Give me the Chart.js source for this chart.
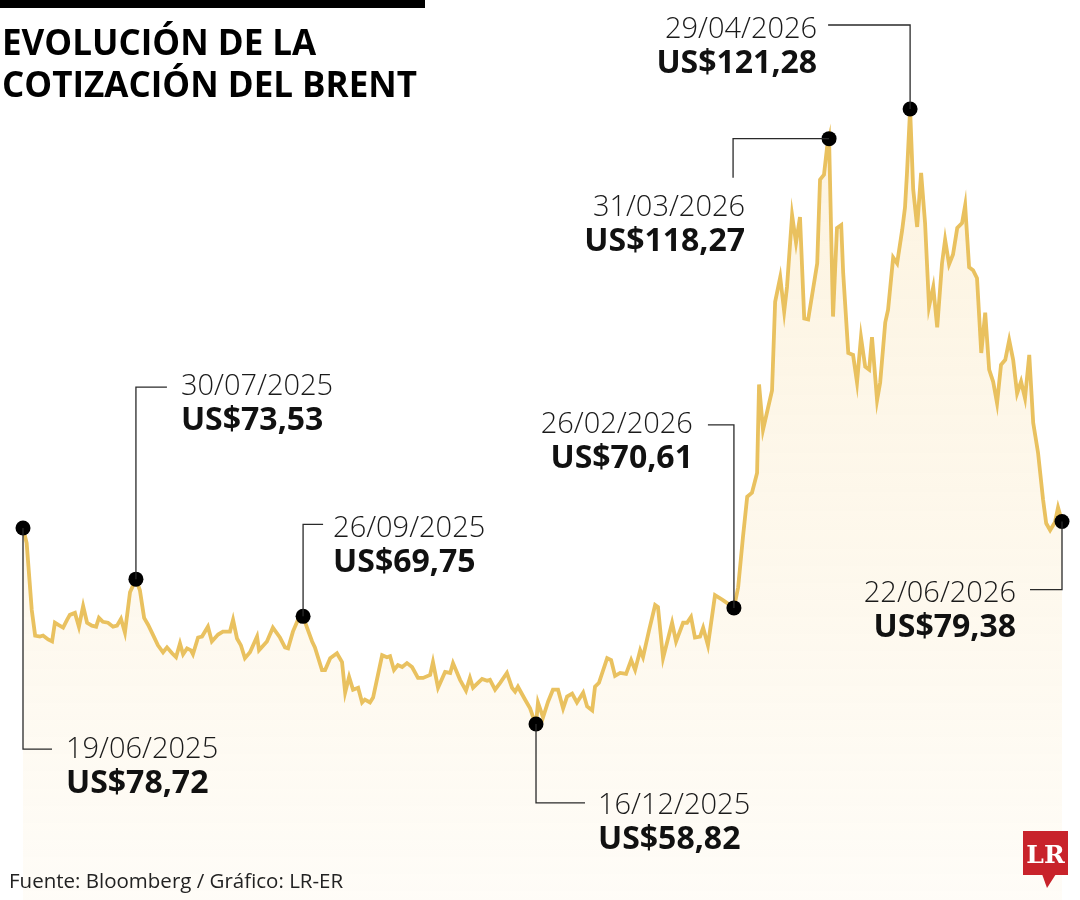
<!DOCTYPE html>
<html lang="es">
<head>
<meta charset="utf-8">
<title>Evolución de la cotización del Brent</title>
<script src="https://cdn.jsdelivr.net/npm/chart.js@4.4.1/dist/chart.umd.min.js"></script>
<style>
  html, body { margin: 0; padding: 0; background: #fff; }
  #wrap { width: 1080px; height: 900px; position: relative; }
</style>
</head>
<body>
<div id="wrap"><canvas id="brentChart" width="1080" height="900"></canvas></div>
<script>
// ============================ DATA ============================

// days since 19/06/2025
const days = [
  0, 1.3, 3.1, 4.3, 6.0, 7.1, 8.9, 10.3, 11.3, 12.4,
  14.2, 15.6, 16.6, 18.4, 19.8, 21.3, 22.7, 24.4, 25.9, 26.9,
  28.3, 30.1, 31.9, 33.3, 34.7, 36.1, 37.9, 40.0, 41.4, 42.9,
  44.3, 46.0, 47.8, 49.6, 51.0, 52.8, 54.2, 55.6, 56.7, 58.1,
  59.5, 60.2, 62.0, 63.4, 65.5, 66.9, 69.1, 70.8, 73.3, 74.4,
  75.8, 77.2, 78.6, 80.4, 82.9, 83.6, 86.4, 88.5, 91.0, 92.8,
  93.9, 95.6, 97.4, 99.2, 100.6, 102.4, 103.4, 105.9, 107.0, 108.8,
  111.2, 113.0, 114.1, 115.5, 116.9, 118.7, 120.1, 121.1, 122.9, 124.0,
  127.2, 128.9, 130.0, 131.4, 132.8, 134.3, 136.0, 137.8, 139.9, 141.7,
  144.2, 145.2, 147.0, 149.5, 151.3, 152.3, 154.8, 156.9, 158.3, 159.4,
  162.6, 164.4, 165.4, 167.2, 169.0, 171.4, 173.2, 174.3, 175.3, 177.8,
  179.6, 180.7, 181.7, 182.4, 184.2, 186.0, 187.7, 189.5, 191.3, 192.7,
  194.5, 196.2, 198.4, 199.8, 201.6, 202.6, 204.0, 206.9, 208.3, 209.7,
  211.5, 213.6, 215.4, 216.8, 218.6, 219.6, 221.8, 223.9, 224.9, 226.7,
  229.9, 231.3, 233.8, 235.2, 236.6, 238.0, 239.8, 240.9, 242.6, 245.1,
  247.9, 251.8, 253.3, 255.0, 256.5, 258.2, 260.0, 260.7, 262.1, 265.3,
  266.4, 268.2, 269.6, 270.6, 272.4, 273.8, 275.2, 276.7, 278.1, 281.3,
  282.3, 283.7, 284.8, 285.5, 286.9, 288.3, 289.8, 290.5, 292.3, 294.0,
  295.4, 296.8, 298.3, 299.7, 300.7, 302.5, 303.6, 305.4, 306.4, 308.2,
  309.6, 311.4, 312.4, 313.1, 314.2, 315.3, 316.7, 318.1, 319.5, 320.9,
  322.4, 323.8, 325.5, 326.6, 328.0, 329.4, 330.9, 332.6, 333.7, 335.1,
  336.5, 337.9, 339.4, 340.8, 342.2, 343.6, 345.0, 346.4, 347.9, 349.3,
  350.7, 352.1, 353.5, 354.9, 356.4, 357.8, 359.5, 361.3, 362.4, 363.8,
  365.5, 366.6, 368
];

// Brent, US$ per barrel
const prices = [
  78.72, 77.2, 70.4, 67.8, 67.7, 67.8, 67.4, 67.2, 69.1, 68.9,
  68.6, 69.4, 69.9, 70.1, 68.7, 70.8, 69.1, 68.8, 68.7, 69.6,
  69.2, 69.1, 68.7, 68.8, 69.5, 68.1, 72.2, 73.53, 72.4, 69.6,
  68.9, 67.9, 66.8, 66.1, 66.6, 66.0, 65.6, 67.0, 65.9, 66.5,
  66.3, 65.9, 67.6, 67.7, 68.7, 67.2, 67.9, 68.2, 68.2, 69.4,
  67.5, 66.8, 65.5, 66.1, 67.7, 66.3, 67.2, 68.6, 67.6, 66.6,
  66.5, 68.2, 69.4, 69.75, 68.6, 67.2, 66.6, 64.3, 64.3, 65.5,
  66.0, 65.1, 62.0, 63.6, 62.3, 62.5, 61.0, 61.3, 61.0, 61.5,
  65.8, 65.6, 65.7, 64.3, 64.8, 64.6, 65.0, 64.6, 63.5, 63.5,
  63.8, 65.1, 62.5, 64.1, 64.0, 65.0, 63.3, 62.2, 63.5, 62.5,
  63.4, 63.2, 63.3, 62.3, 63.0, 64.0, 62.5, 62.1, 62.6, 61.3,
  60.4, 59.5, 58.82, 61.0, 59.5, 61.1, 62.3, 62.3, 60.4, 61.6,
  61.9, 61.0, 62.0, 60.6, 60.2, 62.6, 63.0, 65.5, 65.3, 63.7,
  64.0, 63.9, 65.3, 64.3, 66.3, 65.6, 68.4, 70.9, 70.7, 65.5,
  69.1, 67.2, 69.1, 69.1, 69.7, 67.6, 67.7, 68.6, 66.8, 71.9,
  71.4, 70.61, 72.7, 77.8, 81.9, 82.3, 84.3, 93.3, 88.7, 92.7,
  101.7, 104.2, 100.7, 103.2, 110.5, 107.7, 110.3, 100.0, 99.9, 105.6,
  114.1, 114.6, 117.4, 118.27, 100.2, 109.2, 109.5, 104.6, 96.5, 96.3,
  93.5, 98.1, 95.1, 94.8, 98.1, 91.7, 93.5, 99.6, 100.9, 106.2,
  105.6, 109.0, 111.3, 114.8, 121.28, 113.1, 109.3, 114.8, 109.7, 101.2,
  103.2, 99.1, 105.6, 108.0, 105.5, 106.5, 109.2, 109.7, 111.5, 105.2,
  104.9, 104.1, 96.5, 100.6, 94.8, 93.6, 91.4, 95.3, 95.8, 97.8,
  95.8, 92.4, 93.6, 91.9, 96.3, 89.4, 86.4, 81.6, 79.2, 78.5,
  79.3, 80.8, 79.38
];

// highlighted points
const highlightDates = [
  "19/06/2025", "30/07/2025", "26/09/2025", "16/12/2025",
  "26/02/2026", "31/03/2026", "29/04/2026", "22/06/2026"
];
const highlightDays = [0, 40.0, 99.2, 181.7, 251.8, 285.5, 314.2, 368];

const highlightIdx = highlightDays.map((d) => days.indexOf(d));

// ============================ CALLOUT LAYOUT ============================

// leader path offsets from the dot, text anchor offsets from the dot
const callouts = [
  { path: [[0, 221], [29, 221]], tx: 43, ty: 230, align: "left" },
  { path: [[0, -192], [31, -192]], tx: 45, ty: -184, align: "left" },
  { path: [[0, -92], [20, -92]], tx: 30, ty: -79, align: "left" },
  { path: [[0, 79], [49, 79]], tx: 62, ty: 90, align: "left" },
  { path: [[0, -183], [-26, -183]], tx: -41, ty: -175, align: "right" },
  { path: [[-96, 0], [-96, 39]], tx: -84, ty: 77, align: "right" },
  { path: [[0, -84], [-82, -84]], tx: -93, ty: -71, align: "right" },
  { path: [[0, 68], [-32, 68]], tx: -46, ty: 80, align: "right" },
];

function formatPrice(v) {
  return "US$" + v.toFixed(2).replace(".", ",");
}

// ============================ PLUGINS ============================

const calloutPlugin = {
  id: "callouts",
  afterDatasetsDraw(chart) {
    const ctx = chart.ctx;
    const meta = chart.getDatasetMeta(0);
    highlightIdx.forEach((idx, i) => {
      const pt = meta.data[idx];
      const c = callouts[i];
      ctx.save();
      ctx.strokeStyle = "#2a2a2a";
      ctx.lineWidth = 1.3;
      ctx.beginPath();
      ctx.moveTo(pt.x, pt.y);
      c.path.forEach(([dx, dy]) => ctx.lineTo(pt.x + dx, pt.y + dy));
      ctx.stroke();

      ctx.textAlign = c.align;
      ctx.textBaseline = "alphabetic";
      ctx.fillStyle = "#1a1a1a";
      ctx.font = '300 29px "Open Sans"';
      ctx.fillText(highlightDates[i], pt.x + c.tx, pt.y + c.ty);
      ctx.fillStyle = "#111";
      ctx.font = '700 32px "Open Sans"';
      ctx.fillText(formatPrice(prices[idx]), pt.x + c.tx, pt.y + c.ty + 35);
      ctx.restore();
    });
  },
};

const framePlugin = {
  id: "frame",
  afterDraw(chart) {
    const ctx = chart.ctx;
    ctx.save();
    // top bar
    ctx.fillStyle = "#000";
    ctx.fillRect(0, 0, 425, 8);

    // title
    ctx.fillStyle = "#000";
    ctx.textAlign = "left";
    ctx.textBaseline = "alphabetic";
    ctx.font = '700 35px "Open Sans"';
    ctx.fillText("EVOLUCIÓN DE LA", 2, 55);
    ctx.fillText("COTIZACIÓN DEL BRENT", 2, 97);

    // source
    ctx.fillStyle = "#222";
    ctx.font = '400 20.5px "Open Sans"';
    ctx.fillText("Fuente: Bloomberg / Gráfico: LR-ER", 9, 888);

    // LR logo
    ctx.fillStyle = "#c8232b";
    ctx.fillRect(1023, 831, 45, 44);
    ctx.beginPath();
    ctx.moveTo(1042, 874);
    ctx.lineTo(1056, 874);
    ctx.lineTo(1047, 888);
    ctx.closePath();
    ctx.fill();
    ctx.fillStyle = "#fff";
    ctx.textAlign = "center";
    ctx.font = '700 25px "DejaVu Serif"';
    ctx.fillText("LR", 1045.5, 863);
    ctx.restore();
  },
};

// ============================ CHART ============================

function fillGradient(context) {
  const { ctx, chartArea } = context.chart;
  if (!chartArea) return null;
  const g = ctx.createLinearGradient(0, chartArea.top, 0, chartArea.bottom);
  g.addColorStop(0, "rgba(245, 205, 120, 0.25)");
  g.addColorStop(0.6, "rgba(245, 205, 120, 0.14)");
  g.addColorStop(1, "rgba(245, 205, 120, 0.06)");
  return g;
}

const ctx = document.getElementById("brentChart").getContext("2d");
new Chart(ctx, {
  type: "line",
  data: {
    datasets: [
      {
        label: "Brent",
        data: days.map((d, i) => ({ x: d, y: prices[i] })),
        borderColor: "#e9c15f",
        borderWidth: 3.8,
        backgroundColor: fillGradient,
        fill: "start",
        tension: 0,
        clip: false,
        pointRadius: (c) => (highlightIdx.includes(c.dataIndex) ? 7.5 : 0),
        pointHoverRadius: (c) => (highlightIdx.includes(c.dataIndex) ? 7.5 : 0),
        pointBackgroundColor: "#000",
        pointBorderWidth: 0,
      },
    ],
  },
  options: {
    responsive: false,
    animation: false,
    devicePixelRatio: 1,
    events: [],
    layout: {
      autoPadding: false,
      padding: { left: 23, right: 18, top: 0, bottom: 0 },
    },
    scales: {
      x: { type: "linear", min: 0, max: 368, display: false },
      y: { min: 40.94, max: 132.35, display: false },
    },
    plugins: {
      legend: { display: false },
      tooltip: { enabled: false },
    },
  },
  plugins: [calloutPlugin, framePlugin],
});
</script>
</body>
</html>
